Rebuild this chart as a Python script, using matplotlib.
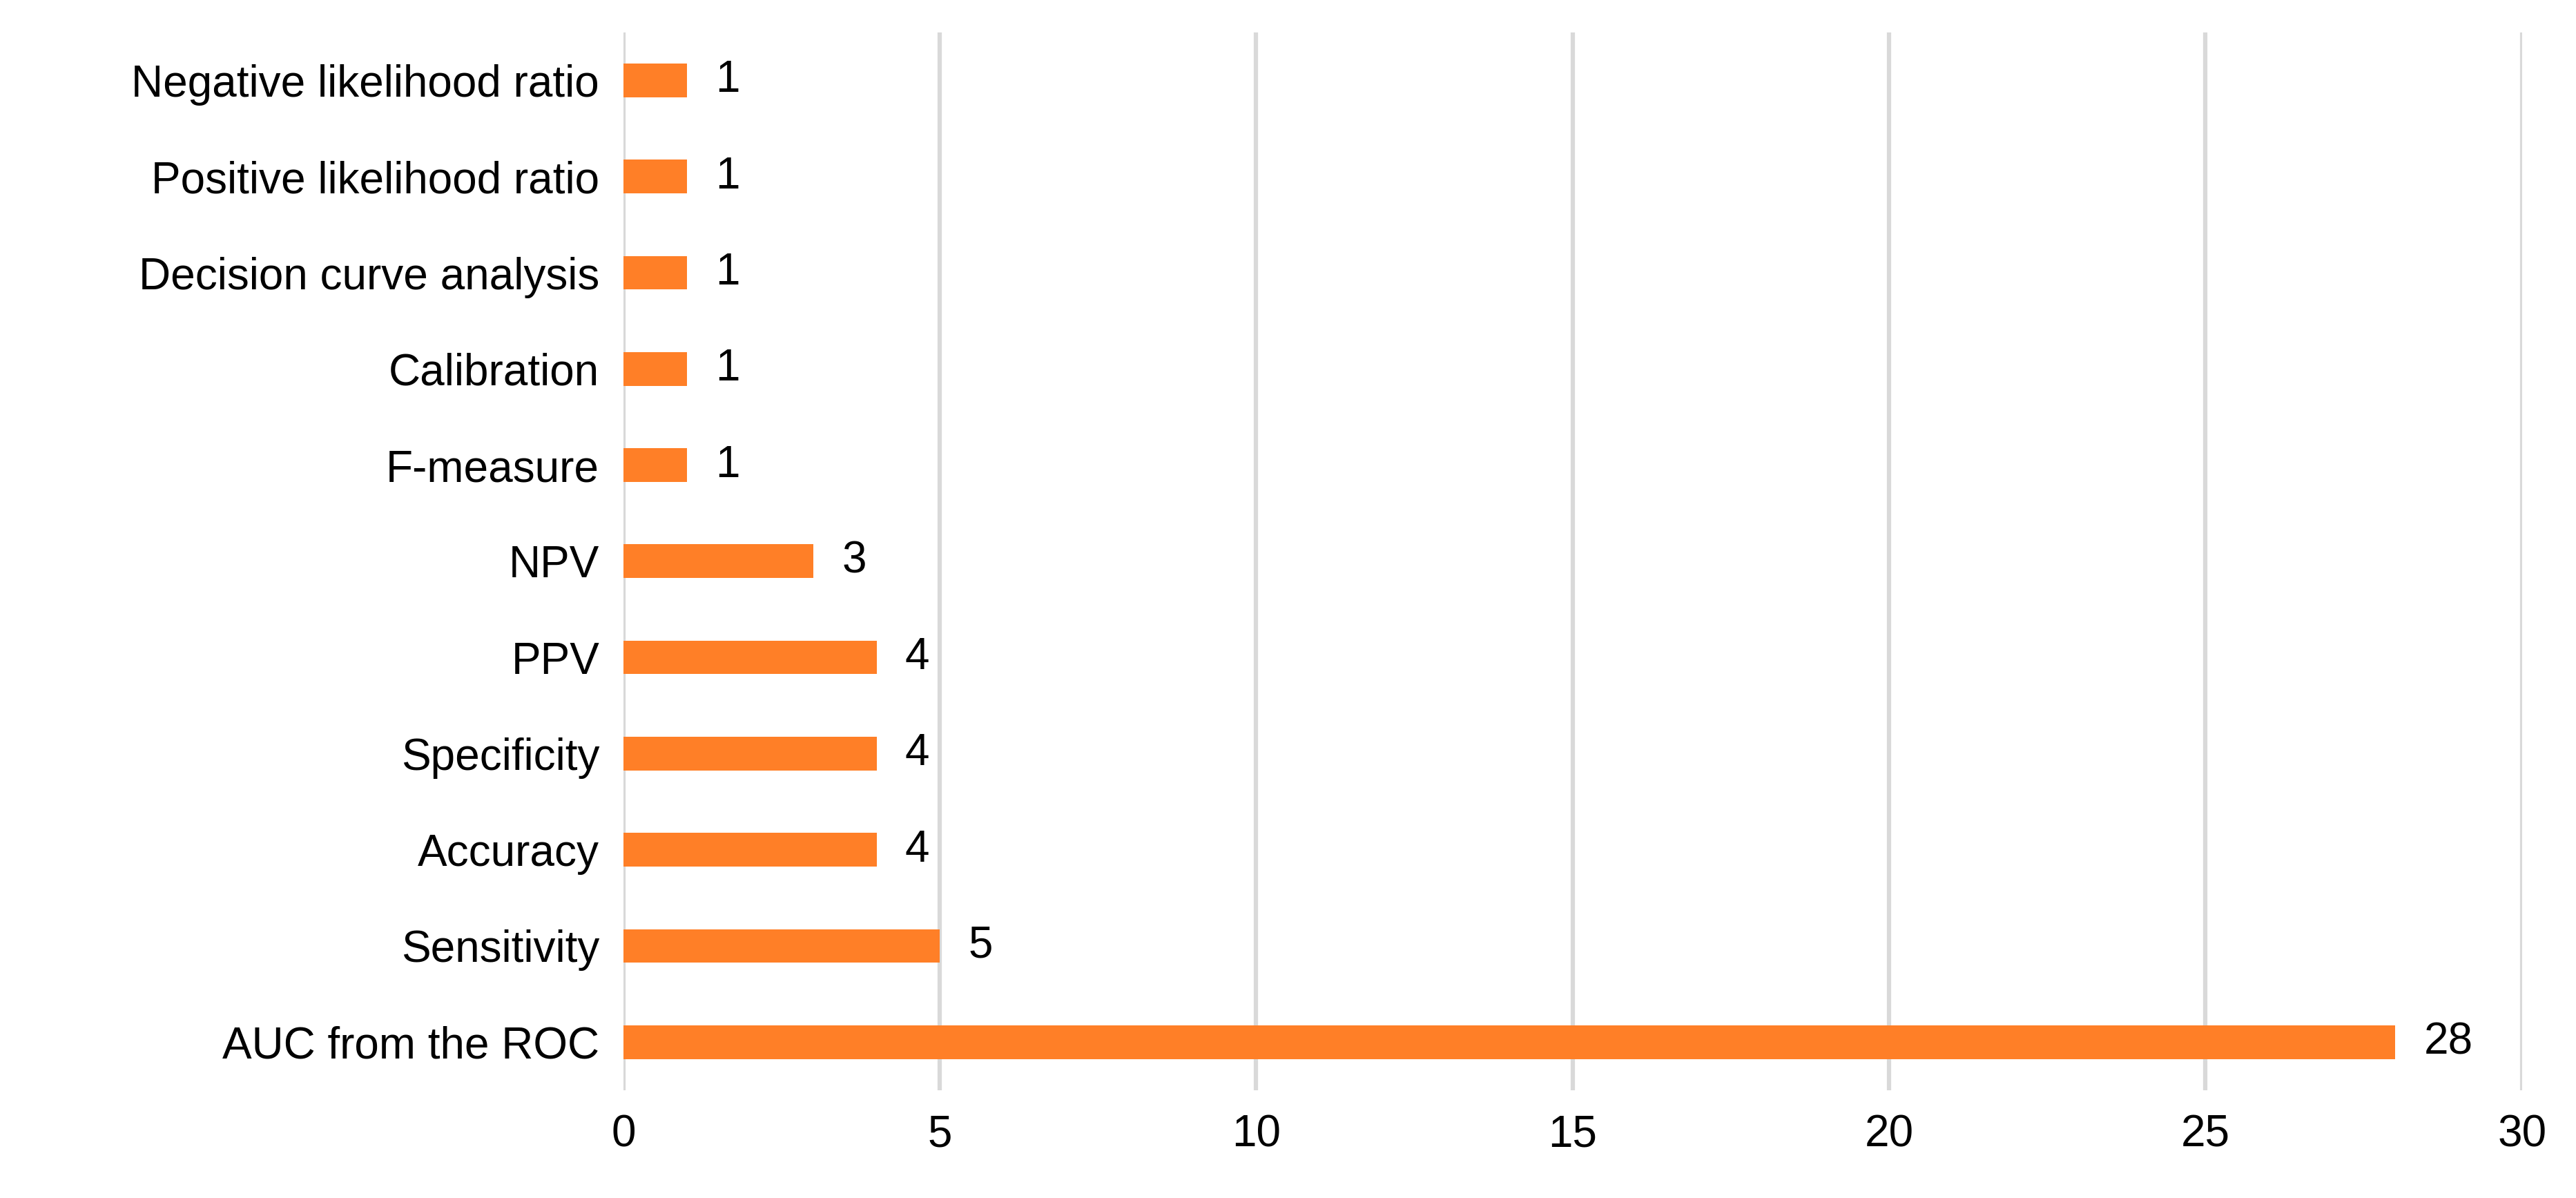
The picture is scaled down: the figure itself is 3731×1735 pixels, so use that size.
import matplotlib
matplotlib.use("Agg")
import matplotlib.pyplot as plt

categories = ["AUC from the ROC", "Sensitivity", "Accuracy", "Specificity", "PPV", "NPV",
              "F-measure", "Calibration", "Decision curve analysis",
              "Positive likelihood ratio", "Negative likelihood ratio"]
values = [28, 5, 4, 4, 4, 3, 1, 1, 1, 1, 1]
xticks = [0, 5, 10, 15, 20, 25, 30]

plt.rcParams['font.family'] = ['Liberation Sans', 'DejaVu Sans']
fig = plt.figure(figsize=(37.31, 17.35), dpi=100)
ax = fig.add_axes([0.242, 0.09, 0.737, 0.883])
y = range(len(categories))
ax.barh(y, values, height=0.35, color="#FF7F27", zorder=3)
for yi, v in zip(y, values):
    ax.text(v + 0.45, yi, str(v), va="center", ha="left", fontsize=46)
ax.set_yticks(list(y))
ax.set_yticklabels(categories, fontsize=46)
ax.set_xticks(xticks)
ax.set_xticklabels([str(t) for t in xticks], fontsize=46)
ax.set_xlim(0, 30)
ax.set_ylim(-0.5, len(categories) - 0.5)
ax.grid(axis="x", color="#D9D9D9", linewidth=4.5, zorder=0)
for s in ax.spines.values():
    s.set_visible(False)
ax.tick_params(length=0, pad=25)
fig.savefig("out.png", dpi=100)
